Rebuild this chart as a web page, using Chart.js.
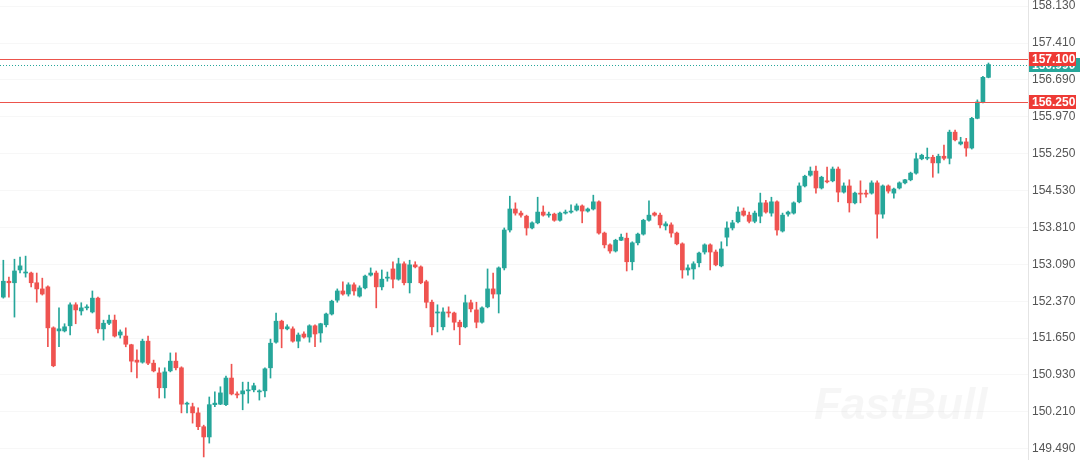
<!DOCTYPE html>
<html>
<head>
<meta charset="utf-8">
<script src="https://cdn.jsdelivr.net/npm/chart.js@4.4.1/dist/chart.umd.min.js"></script>
<style>
  html, body { margin: 0; padding: 0; background: #fff; }
  #wrap { width: 1080px; height: 460px; }
</style>
</head>
<body>
<div id="wrap"><canvas id="myChart" width="1080" height="460"></canvas></div>
<script>
// OHLC, one candle per slot, oldest first
var opens = [
  152.45, 152.76, 152.73, 152.98, 152.92, 152.92, 152.73, 152.61, 152.65, 151.85,
  151.79, 151.79, 151.89, 152.30, 152.18, 152.24, 152.16, 152.43, 151.83, 151.94,
  152.00, 151.71, 151.69, 151.52, 151.22, 151.18, 151.59, 151.16, 150.97, 150.68,
  151.01, 151.20, 151.07, 150.36, 150.31, 150.19, 149.92, 149.72, 150.35, 150.36,
  150.35, 150.87, 150.56, 150.56, 150.62, 150.64, 150.60, 150.62, 151.07, 151.57,
  151.98, 151.83, 151.83, 151.59, 151.73, 151.67, 151.89, 151.75, 151.91, 152.12,
  152.39, 152.57, 152.51, 152.69, 152.47, 152.63, 152.88, 152.92, 152.65, 152.82,
  153.00, 152.80, 153.10, 152.73, 153.08, 153.04, 152.75, 152.35, 152.14, 151.87,
  152.16, 152.14, 151.96, 151.87, 152.34, 152.20, 151.96, 152.26, 152.61, 152.51,
  153.02, 153.76, 154.17, 154.09, 154.03, 153.80, 153.90, 154.11, 154.05, 154.07,
  153.95, 154.09, 154.11, 154.15, 154.23, 154.13, 154.17, 154.31, 153.70, 153.47,
  153.35, 153.56, 153.60, 153.14, 153.51, 153.68, 153.95, 154.09, 154.05, 153.84,
  153.86, 153.70, 153.49, 152.98, 153.00, 153.12, 153.33, 153.47, 153.33, 153.06,
  153.62, 153.80, 153.92, 154.13, 154.05, 153.93, 154.03, 154.29, 154.09, 154.31,
  153.74, 154.07, 154.09, 154.31, 154.62, 154.83, 154.91, 154.58, 154.72, 154.72,
  154.95, 154.50, 154.62, 154.29, 154.48, 154.48, 154.48, 154.68, 154.07, 154.62,
  154.48, 154.58, 154.68, 154.74, 154.87, 155.15, 155.16, 155.18, 155.07, 155.20,
  155.16, 155.67, 155.44, 155.48, 155.36, 155.94, 156.26, 156.74
];
var highs = [
  153.17, 152.84, 153.19, 153.23, 153.25, 152.94, 152.92, 152.82, 152.67, 151.87,
  152.24, 151.93, 152.34, 152.34, 152.34, 152.30, 152.57, 152.45, 152.00, 152.10,
  152.10, 151.81, 151.85, 151.53, 151.42, 151.63, 151.69, 151.22, 151.07, 151.07,
  151.36, 151.36, 151.09, 150.40, 150.38, 150.29, 149.95, 150.50, 150.60, 150.70,
  150.91, 151.14, 150.60, 150.79, 150.79, 150.77, 150.64, 151.07, 151.63, 152.14,
  152.00, 151.91, 151.87, 151.75, 151.77, 151.91, 151.91, 151.94, 152.14, 152.39,
  152.61, 152.75, 152.73, 152.73, 152.67, 152.88, 153.02, 152.96, 152.98, 152.94,
  153.14, 153.21, 153.14, 153.17, 153.14, 153.06, 152.78, 152.39, 152.30, 152.24,
  152.26, 152.16, 152.00, 152.49, 152.39, 152.35, 152.26, 153.00, 152.92, 153.04,
  153.80, 154.42, 154.29, 154.13, 154.05, 153.92, 154.40, 154.23, 154.11, 154.09,
  154.11, 154.15, 154.25, 154.27, 154.25, 154.19, 154.44, 154.33, 153.72, 153.49,
  153.58, 153.68, 153.70, 153.53, 153.70, 153.97, 154.33, 154.11, 154.09, 153.92,
  153.90, 153.72, 153.51, 153.08, 153.14, 153.33, 153.49, 153.49, 153.37, 153.53,
  153.92, 153.95, 154.21, 154.19, 154.11, 154.13, 154.48, 154.34, 154.40, 154.33,
  154.09, 154.13, 154.31, 154.68, 154.83, 154.99, 155.01, 154.81, 154.99, 154.99,
  154.99, 154.68, 154.74, 154.50, 154.72, 154.54, 154.72, 154.72, 154.64, 154.64,
  154.58, 154.70, 154.75, 154.89, 155.26, 155.24, 155.36, 155.22, 155.24, 155.42,
  155.71, 155.71, 155.57, 155.55, 155.96, 156.30, 156.76, 157.02
];
var lows = [
  152.43, 152.45, 152.06, 152.92, 152.84, 152.65, 152.35, 152.49, 151.48, 151.09,
  151.48, 151.77, 151.71, 151.93, 152.10, 152.20, 152.14, 151.75, 151.61, 151.91,
  151.67, 151.65, 151.48, 150.99, 150.87, 151.16, 151.13, 150.99, 150.48, 150.48,
  150.99, 151.03, 150.19, 150.19, 149.99, 149.86, 149.33, 149.60, 150.31, 150.35,
  150.33, 150.54, 150.48, 150.25, 150.38, 150.60, 150.44, 150.50, 150.87, 151.55,
  151.46, 151.81, 151.57, 151.46, 151.65, 151.57, 151.48, 151.57, 151.87, 152.10,
  152.35, 152.49, 152.47, 152.49, 152.45, 152.61, 152.86, 152.24, 152.59, 152.76,
  152.63, 152.78, 152.69, 152.53, 153.02, 152.71, 152.24, 151.71, 151.77, 151.81,
  152.06, 151.81, 151.52, 151.85, 152.16, 151.85, 151.94, 152.24, 152.43, 152.14,
  152.98, 153.72, 154.05, 154.01, 153.66, 153.78, 153.88, 154.03, 154.01, 153.93,
  153.93, 154.07, 154.09, 154.13, 153.90, 154.11, 154.15, 153.68, 153.41, 153.31,
  153.33, 153.55, 152.96, 152.98, 153.47, 153.66, 153.93, 154.03, 153.80, 153.76,
  153.62, 153.47, 152.82, 152.88, 152.80, 153.04, 153.29, 152.98, 153.06, 153.04,
  153.45, 153.76, 153.90, 154.03, 153.90, 153.90, 153.90, 154.09, 154.03, 153.66,
  153.72, 154.03, 154.07, 154.29, 154.60, 154.81, 154.48, 154.56, 154.68, 154.70,
  154.31, 154.48, 154.11, 154.27, 154.29, 154.40, 154.46, 153.60, 153.99, 154.48,
  154.38, 154.56, 154.66, 154.72, 154.85, 155.13, 155.13, 154.79, 154.87, 155.13,
  155.05, 155.50, 155.42, 155.20, 155.34, 155.93, 156.24, 156.73
];
var closes = [
  152.76, 152.73, 152.96, 153.06, 152.94, 152.73, 152.61, 152.51, 151.85, 151.11,
  151.83, 151.87, 152.30, 152.20, 152.24, 152.26, 152.43, 151.83, 151.94, 152.00,
  151.69, 151.77, 151.53, 151.20, 151.18, 151.59, 151.16, 151.01, 150.68, 150.99,
  151.20, 151.07, 150.36, 150.38, 150.19, 149.92, 149.72, 150.35, 150.38, 150.58,
  150.87, 150.56, 150.54, 150.62, 150.64, 150.72, 150.62, 151.05, 151.55, 151.98,
  151.83, 151.87, 151.59, 151.71, 151.67, 151.89, 151.73, 151.93, 152.12, 152.37,
  152.57, 152.51, 152.69, 152.57, 152.63, 152.86, 152.92, 152.65, 152.80, 152.84,
  152.80, 153.10, 152.73, 153.08, 153.04, 152.73, 152.35, 151.87, 152.16, 152.16,
  152.14, 151.96, 151.87, 152.34, 152.22, 151.96, 152.24, 152.61, 152.51, 153.02,
  153.76, 154.17, 154.09, 154.05, 153.80, 153.90, 154.11, 154.05, 154.07, 153.95,
  154.09, 154.11, 154.13, 154.23, 154.13, 154.17, 154.31, 153.70, 153.47, 153.35,
  153.56, 153.62, 153.14, 153.51, 153.68, 153.95, 154.05, 154.05, 153.86, 153.88,
  153.70, 153.49, 152.98, 153.02, 153.10, 153.31, 153.47, 153.33, 153.08, 153.39,
  153.80, 153.90, 154.11, 154.05, 153.93, 154.09, 154.29, 154.11, 154.31, 153.76,
  154.05, 154.11, 154.29, 154.62, 154.81, 154.91, 154.58, 154.79, 154.70, 154.95,
  154.50, 154.62, 154.29, 154.48, 154.46, 154.46, 154.68, 154.07, 154.62, 154.52,
  154.56, 154.68, 154.74, 154.87, 155.15, 155.22, 155.18, 155.07, 155.20, 155.16,
  155.67, 155.52, 155.48, 155.36, 155.94, 156.26, 156.74, 156.99
];

// right axis tick labels
var priceTicks = [149.49, 150.21, 150.93, 151.65, 152.37, 153.09, 153.81, 154.53, 155.25, 155.97, 156.69, 157.41, 158.13];

// marked levels and the last price
var levelLines = [157.10, 156.25];
var lastPrice = closes[closes.length - 1];

var UP = '#26a69a';
var DOWN = '#ef5350';
var LEVEL = 'rgb(236, 84, 76)';

var colors = closes.map(function (c, i) { return c >= opens[i] ? UP : DOWN; });
var bodies = closes.map(function (c, i) { return { x: i, y: [opens[i], c] }; });
var wicks = closes.map(function (c, i) { return { x: i, y: [lows[i], highs[i]] }; });

var levelsPlugin = {
  id: 'levels',
  beforeDatasetsDraw: function (chart) {
    var g = chart.ctx, a = chart.chartArea;
    g.save();
    // watermark
    g.font = 'italic bold 44px "Liberation Sans", Arial, sans-serif';
    g.fillStyle = 'rgba(0,0,0,0.035)';
    g.textBaseline = 'alphabetic';
    g.fillText('FastBull', 814, 419);
    g.restore();
  },
  afterDatasetsDraw: function (chart) {
    var g = chart.ctx, a = chart.chartArea, y = chart.scales.y;
    g.save();
    g.lineWidth = 1;
    g.setLineDash([]);
    levelLines.forEach(function (p) {
      var py = Math.round(y.getPixelForValue(p)) + 0.5;
      g.strokeStyle = LEVEL;
      g.beginPath();
      g.moveTo(a.left, py);
      g.lineTo(a.right, py);
      g.stroke();
    });
    // dotted last-price line
    var ly = Math.round(y.getPixelForValue(lastPrice)) + 0.5;
    g.strokeStyle = UP;
    g.setLineDash([1, 2]);
    g.beginPath();
    g.moveTo(a.left, ly);
    g.lineTo(a.right, ly);
    g.stroke();
    g.restore();
  },
  afterDraw: function (chart) {
    var g = chart.ctx, a = chart.chartArea, y = chart.scales.y;
    g.save();
    g.font = 'bold 12px "Liberation Sans", Arial, sans-serif';
    g.textBaseline = 'middle';
    g.textAlign = 'left';
    // last price tag first, the level tags cover it
    var ly = Math.round(y.getPixelForValue(lastPrice));
    g.fillStyle = UP;
    g.fillRect(a.right + 1, ly - 7, 51, 14);
    g.fillStyle = '#fff';
    g.fillText(lastPrice.toFixed(3), a.right + 4, ly + 0.5);
    levelLines.forEach(function (p) {
      var py = Math.round(y.getPixelForValue(p));
      g.fillStyle = '#ee3a35';
      g.fillRect(a.right + 1, py - 7, 47, 14);
      g.fillStyle = '#fff';
      g.fillText(p.toFixed(3), a.right + 4, py + 0.5);
    });
    g.restore();
  }
};

var ctx = document.getElementById('myChart');

var myChart = new Chart(ctx, {
  type: 'bar',
  data: {
    datasets: [
      {
        data: bodies,
        backgroundColor: colors,
        borderWidth: 0,
        barThickness: 4,
        minBarLength: 1,
        grouped: false
      },
      {
        data: wicks,
        backgroundColor: colors,
        borderWidth: 0,
        barThickness: 1,
        grouped: false
      }
    ]
  },
  options: {
    responsive: false,
    animation: false,
    devicePixelRatio: 1,
    layout: { padding: 0 },
    plugins: {
      legend: { display: false },
      tooltip: { enabled: false }
    },
    scales: {
      x: {
        type: 'linear',
        min: -0.6,
        max: 184.1,
        offset: false,
        display: false
      },
      y: {
        position: 'right',
        min: 149.27,
        max: 158.25,
        afterBuildTicks: function (scale) {
          scale.ticks = priceTicks.map(function (v) { return { value: v }; });
        },
        afterFit: function (scale) {
          scale.width = 52;
          scale.paddingTop = 0;
          scale.paddingBottom = 0;
        },
        grid: {
          color: 'rgba(0,0,0,0.03)',
          drawTicks: false,
          tickLength: 0
        },
        border: { display: true, color: '#e4e4e4' },
        ticks: {
          autoSkip: false,
          padding: 4,
          color: '#555',
          font: { family: '"Liberation Sans", Arial, sans-serif', size: 12 },
          callback: function (v) { return Number(v).toFixed(3); }
        }
      }
    }
  },
  plugins: [levelsPlugin]
});
</script>
</body>
</html>
